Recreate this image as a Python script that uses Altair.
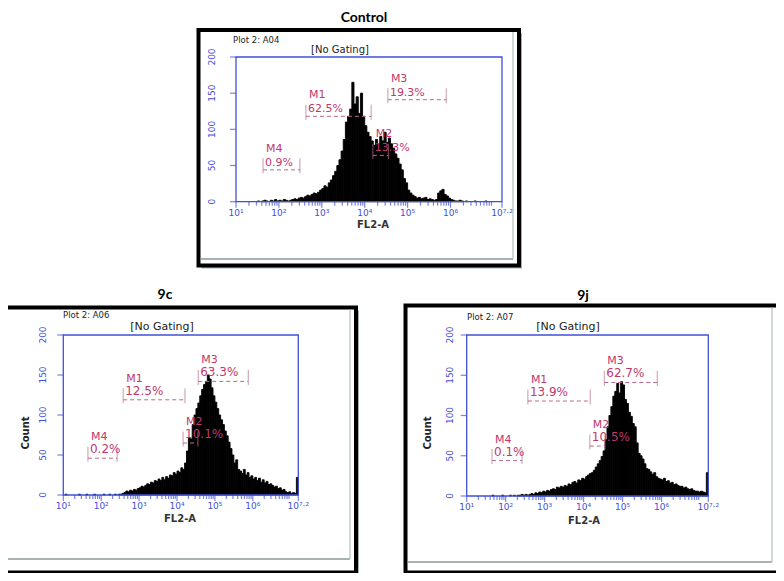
import math
import altair as alt
import pandas as pd

W, H, M = 768, 565, 8

# ---------------- data ----------------
bin_lo = [round(1.0 + 0.05 * i, 2) for i in range(124)]   # log10 FL2-A bins, width 0.05

control_counts = [
    0, 0, 0, 0, 0, 0, 0, 0, 0, 0,
    1, 0, 1, 2, 1, 0, 2, 1, 3, 1,
    2, 1, 3, 2, 1, 2, 3, 4, 3, 5,
    6, 5, 7, 9, 8, 10, 12, 11, 13, 16,
    18, 22, 20, 26, 30, 36, 42, 50, 58, 70,
    86, 110, 118, 128, 165, 135, 145, 122, 150, 118,
    105, 96, 90, 84, 78, 86, 80, 90, 84, 96,
    82, 88, 80, 74, 66, 60, 52, 44, 32, 26,
    16, 12, 9, 7, 5, 6, 4, 5, 6, 3,
    4, 3, 2, 3, 12, 15, 17, 10, 8, 5,
    3, 2, 1, 1, 2, 1, 0, 1, 0, 0,
    0, 1, 0, 0, 0, 0, 1, 0, 0, 0,
    0, 0, 0, 0]

c9_counts = [
    0, 1, 0, 0, 0, 0, 0, 0, 1, 0,
    0, 0, 1, 0, 0, 0, 1, 0, 0, 0,
    0, 1, 0, 0, 1, 0, 0, 1, 0, 1,
    1, 2, 3, 5, 4, 6, 5, 7, 6, 8,
    9, 11, 10, 12, 14, 13, 16, 15, 18, 17,
    20, 18, 22, 19, 23, 21, 25, 24, 28, 26,
    30, 28, 34, 32, 40, 55, 72, 70, 88, 100,
    108, 115, 124, 132, 138, 142, 150, 145, 134, 124,
    116, 108, 100, 94, 88, 80, 74, 66, 58, 50,
    40, 44, 32, 30, 27, 32, 25, 28, 22, 24,
    20, 22, 18, 21, 16, 19, 15, 17, 13, 14,
    12, 10, 11, 8, 9, 6, 7, 4, 3, 4,
    2, 3, 2, 22]

j9_counts = [
    0, 0, 0, 0, 0, 0, 0, 0, 0, 0,
    0, 0, 0, 1, 0, 0, 0, 0, 1, 0,
    0, 0, 1, 0, 1, 0, 1, 1, 2, 1,
    2, 1, 2, 3, 2, 4, 3, 5, 4, 6,
    5, 7, 6, 8, 9, 8, 11, 10, 12, 11,
    13, 12, 15, 14, 17, 18, 16, 20, 19, 22,
    21, 24, 26, 28, 29, 32, 36, 40, 44, 49,
    56, 70, 86, 100, 111, 124, 130, 140, 128, 142,
    138, 120, 115, 104, 99, 90, 86, 66, 53, 50,
    46, 40, 34, 33, 30, 27, 29, 24, 22, 21,
    20, 22, 18, 19, 16, 17, 14, 15, 13, 12,
    12, 10, 11, 9, 8, 9, 7, 6, 6, 5,
    6, 5, 4, 29]

gate_names = ["M1", "M2", "M3", "M4"]
control_pct = ["62.5%", "13.3%", "19.3%", "0.9%"]
control_lo = [2.63, 4.19, 4.54, 1.63]
control_hi = [4.15, 4.55, 5.90, 2.49]
control_lvl = [118, 64, 141, 44]
c9_pct = ["12.5%", "10.1%", "63.3%", "0.2%"]
c9_lo = [2.58, 4.16, 4.56, 1.65]
c9_hi = [4.21, 4.55, 5.88, 2.42]
c9_lvl = [119, 65, 142, 46]
j9_pct = ["13.9%", "10.5%", "62.7%", "0.1%"]
j9_lo = [2.57, 4.16, 4.53, 1.65]
j9_hi = [4.17, 4.55, 5.89, 2.42]
j9_lvl = [118, 62, 141, 44]

x_ticks = [1, 2, 3, 4, 5, 6, 7.2]
x_tick_labels = ["10\u00b9", "10\u00b2", "10\u00b3", "10\u2074", "10\u2075", "10\u2076", "10\u2077\u00b7\u00b2"]
y_ticks = [0, 50, 100, 150, 200]
y_tick_labels = ["0", "50", "100", "150", "200"]
minor_ticks = [n + math.log10(k) for n in range(1, 7) for k in range(2, 10)]

# ---------------- styles / layout ----------------
BLUE = "#3f50d6"
PINK = "#c0386c"
PINK2 = "#b86a8c"
FONT = "DejaVu Sans"
ONE = pd.DataFrame({"k": [0]})

panels = [
    dict(name="Control", counts=control_counts, pct=control_pct, lo=control_lo, hi=control_hi, lvl=control_lvl,
         plot="Plot 2: A04", px0=236, px1=502, py0=201.7, py200=57,
         box=(198.5, 30, 519, 265.5), gray=(513, 259), title_xy=(364, 18),
         plot_xy=(233, 40), gate_xy=(340, 50), fl_xy=(373, 225), count_xy=None,
         ylab_x=212, fs_small=9, fs_gate=10, fs_pct=11, fs_m=11),
    dict(name="9c", counts=c9_counts, pct=c9_pct, lo=c9_lo, hi=c9_hi, lvl=c9_lvl,
         plot="Plot 2: A06", px0=63.3, px1=298.3, py0=495, py200=335,
         box=(5, 307.5, 356, 572.5), gray=(350, 559), title_xy=(165, 295),
         plot_xy=(63, 315), gate_xy=(162, 327), fl_xy=(180, 519), count_xy=(26, 433),
         ylab_x=43, fs_small=9, fs_gate=11, fs_pct=12, fs_m=11),
    dict(name="9j", counts=j9_counts, pct=j9_pct, lo=j9_lo, hi=j9_hi, lvl=j9_lvl,
         plot="Plot 2: A07", px0=466.7, px1=708.3, py0=496, py200=335,
         box=(405.5, 305.5, 780.5, 572.5), gray=(772, 562), title_xy=(583, 296),
         plot_xy=(467, 317), gate_xy=(568, 327), fl_xy=(584, 521), count_xy=(428, 433),
         ylab_x=450, fs_small=9, fs_gate=11, fs_pct=12, fs_m=11),
]


def pv(v):
    return alt.value(v - M)


def make_panel(p):
    px0, px1, py0, py200 = p["px0"], p["px1"], p["py0"], p["py200"]
    pxpd = (px1 - px0) / 6.2
    pypc = (py0 - py200) / 200.0
    xs = alt.Scale(domain=[1 + (M - px0) / pxpd, 1 + (M + W - px0) / pxpd], nice=False, zero=False)
    ys = alt.Scale(domain=[(py0 - M - H) / pypc, (py0 - M) / pypc], nice=False, zero=False)

    def X(f):
        return alt.X(f, scale=xs, axis=None)

    def Y(f):
        return alt.Y(f, scale=ys, axis=None)

    def XD(v):
        return alt.XDatum(v, scale=xs, axis=None)

    def YD(v):
        return alt.YDatum(v, scale=ys, axis=None)

    bx0, by0, bx1, by1 = p["box"]
    gx, gy = p["gray"]
    layers = []
    # outer screenshot box with shadow
    layers.append(alt.Chart(ONE).mark_rect(color="#a7b3b3").encode(
        x=pv(bx0 + 3), x2=pv(bx1 + 3), y=pv(by0 + 3), y2=pv(by1 + 3)))
    layers.append(alt.Chart(ONE).mark_rect(fill="white", stroke="black", strokeWidth=4).encode(
        x=pv(bx0), x2=pv(bx1), y=pv(by0), y2=pv(by1)))
    layers.append(alt.Chart(ONE).mark_rule(color="#8a9898", strokeWidth=1.5).encode(
        x=pv(bx0 + 2), x2=pv(gx), y=pv(gy)))
    layers.append(alt.Chart(ONE).mark_rule(color="#b5c0c0", strokeWidth=1.2).encode(
        x=pv(gx), y=pv(by0 + 2), y2=pv(gy)))

    # histogram
    df = pd.DataFrame({"lo": bin_lo, "hi": [round(b + 0.05, 2) for b in bin_lo], "n": p["counts"]})
    df = df[df["n"] > 0]
    layers.append(alt.Chart(df).mark_bar(color="black", stroke="black", strokeWidth=0.9).encode(
        x=X("lo:Q"), x2="hi:Q", y=Y("n:Q"), y2=alt.Y2Datum(0)))

    # blue frame
    layers.append(alt.Chart(ONE).mark_rect(fill="white", fillOpacity=0, stroke=BLUE, strokeWidth=1.3).encode(
        x=XD(1), x2=alt.X2Datum(7.2), y=YD(0), y2=alt.Y2Datum(200)))

    # x ticks
    xt = pd.DataFrame({"v": x_ticks, "lab": x_tick_labels})
    mt = pd.DataFrame({"v": minor_ticks})
    layers.append(alt.Chart(mt).mark_tick(orient="vertical", size=4, thickness=1.2, color=BLUE, yOffset=2).encode(
        x=X("v:Q"), y=YD(0)))
    layers.append(alt.Chart(xt).mark_tick(orient="vertical", size=6, thickness=1.2, color=BLUE, yOffset=3).encode(
        x=X("v:Q"), y=YD(0)))
    layers.append(alt.Chart(xt).mark_text(font=FONT, fontSize=p["fs_small"], color=BLUE, dy=11).encode(
        x=X("v:Q"), y=YD(0), text="lab:N"))

    # y ticks
    yt = pd.DataFrame({"v": y_ticks, "lab": y_tick_labels})
    layers.append(alt.Chart(yt).mark_tick(orient="horizontal", size=6, thickness=1.2, color=BLUE, xOffset=-3).encode(
        x=XD(1), y=Y("v:Q")))
    layers.append(alt.Chart(yt).mark_text(font=FONT, fontSize=p["fs_small"], color=BLUE, angle=270,
                                          xOffset=p["ylab_x"] - px0).encode(
        x=XD(1), y=Y("v:Q"), text="lab:N"))

    # gates
    g = pd.DataFrame({"m": gate_names, "pct": p["pct"], "x1": p["lo"], "x2": p["hi"], "lvl": p["lvl"]})
    layers.append(alt.Chart(g).mark_rule(color=PINK2, strokeDash=[4, 3], strokeWidth=1).encode(
        x=X("x1:Q"), x2="x2:Q", y=Y("lvl:Q")))
    layers.append(alt.Chart(g).transform_fold(["x1", "x2"], as_=["end", "xe"]).mark_tick(
        orient="vertical", size=15, thickness=1, color=PINK2, yOffset=-4).encode(
        x=X("xe:Q"), y=Y("lvl:Q")))
    layers.append(alt.Chart(g).mark_text(font=FONT, fontSize=p["fs_pct"], color=PINK, align="left",
                                         baseline="bottom", dx=2, dy=-2).encode(
        x=X("x1:Q"), y=Y("lvl:Q"), text="pct:N"))
    layers.append(alt.Chart(g).mark_text(font=FONT, fontSize=p["fs_m"], color=PINK, align="left",
                                         baseline="bottom", dx=3, dy=-16).encode(
        x=X("x1:Q"), y=Y("lvl:Q"), text="m:N"))

    # panel texts
    tx, ty = p["title_xy"]
    layers.append(alt.Chart(ONE).mark_text(text=p["name"], font="Lato", fontSize=14, fontWeight="bold",
                                           color="black", baseline="middle").encode(x=pv(tx), y=pv(ty)))
    ptx, pty = p["plot_xy"]
    layers.append(alt.Chart(ONE).mark_text(text=p["plot"], font=FONT, fontSize=8.5, color="#222222",
                                           align="left", baseline="middle").encode(x=pv(ptx), y=pv(pty)))
    gtx, gty = p["gate_xy"]
    layers.append(alt.Chart(ONE).mark_text(text="[No Gating]", font=FONT, fontSize=p["fs_gate"],
                                           color="#222222", baseline="middle").encode(x=pv(gtx), y=pv(gty)))
    fx, fy = p["fl_xy"]
    layers.append(alt.Chart(ONE).mark_text(text="FL2-A", font=FONT, fontSize=10, fontWeight="bold",
                                           color="#333333", baseline="middle").encode(x=pv(fx), y=pv(fy)))
    if p["count_xy"] is not None:
        cx, cy = p["count_xy"]
        layers.append(alt.Chart(ONE).mark_text(text="Count", font=FONT, fontSize=10, fontWeight="bold",
                                               color="#222222", angle=270, baseline="middle").encode(
            x=pv(cx), y=pv(cy)))
    return alt.layer(*layers)


chart = alt.layer(*[make_panel(p) for p in panels]).resolve_scale(
    x="independent", y="independent"
).properties(
    width=W, height=H, padding=0, autosize=alt.AutoSizeParams(type="none"), background="white"
).configure_view(stroke=None)

chart.save("out.html", embed_options={"renderer": "svg", "actions": False})
